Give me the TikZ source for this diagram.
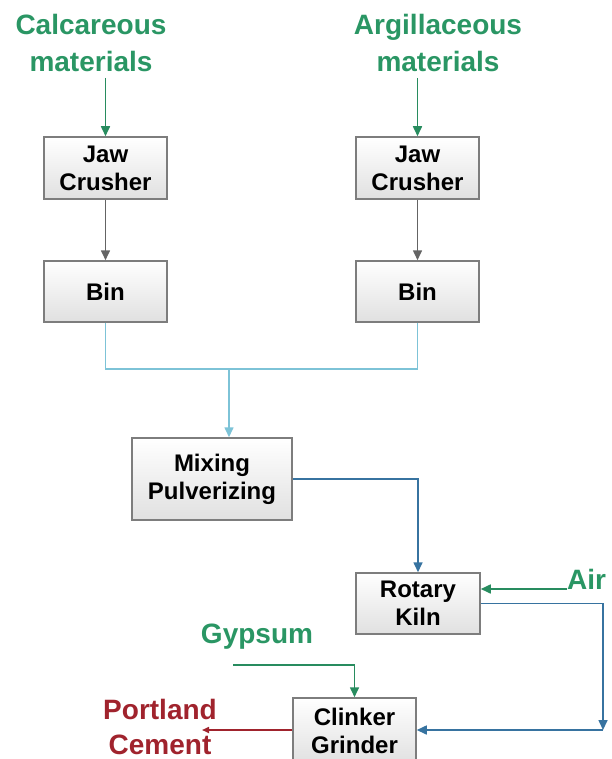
\documentclass[tikz,border=0pt]{standalone}
\usepackage{fontspec}
\setmainfont{Liberation Sans}
\usetikzlibrary{arrows.meta,calc}
\definecolor{lblgreen}{RGB}{42,150,100}
\definecolor{arrgreen}{RGB}{40,140,95}
\definecolor{lblue}{RGB}{125,195,215}
\definecolor{dblue}{RGB}{55,115,160}
\definecolor{dgray}{RGB}{100,100,100}
\definecolor{lred}{RGB}{160,35,45}
\definecolor{boxline}{RGB}{125,125,125}
\tikzset{
  box/.style={draw=boxline, line width=1.5pt, top color=white, bottom color=black!12,
    minimum width=123pt, align=center, inner sep=0pt,
    font=\bfseries\fontsize{24}{28}\selectfont, text=black},
  lbl/.style={align=center, inner sep=2pt, font=\bfseries\fontsize{28}{37}\selectfont},
  tipa/.style={-{Triangle[length=10pt,width=9pt]}},
  conn/.style={line width=1.6pt}
}
\begin{document}
\begin{tikzpicture}[x=1pt,y=-1pt]
\useasboundingbox (0,0) rectangle (611,759);
\clip (0,0) rectangle (611,759);
% labels
\node[lbl, text=lblgreen] (calc) at (91,43) {Calcareous\\materials};
\node[lbl, text=lblgreen] (arg) at (438,43) {Argillaceous\\materials};
% boxes
\node[box, minimum height=62pt] (jaw1) at (105.5,168) {Jaw\\Crusher};
\node[box, minimum height=62pt] (jaw2) at (417.5,168) {Jaw\\Crusher};
\node[box, minimum height=61pt] (bin1) at (105.5,291.5) {Bin};
\node[box, minimum height=61pt] (bin2) at (417.5,291.5) {Bin};
\node[box, minimum width=160pt, minimum height=82pt] (mix) at (212,479) {Mixing\\Pulverizing};
\node[box, minimum width=124pt, minimum height=61pt] (kiln) at (418,603.5) {Rotary\\Kiln};
\node[box, minimum height=66pt] (clinker) at (354.5,731) {Clinker\\Grinder};
\node[lbl, text=lblgreen, anchor=base west, inner sep=0pt] (air) at (567,589) {Air};
\node[lbl, text=lblgreen] (gyp) at (257,637) {Gypsum};
\node[lbl, text=lred, font=\bfseries\fontsize{28}{35}\selectfont] (port) at (160,727) {Portland\\Cement};
% coordinates
\coordinate (j) at (229,369);
\coordinate (k) at (603,730);
\coordinate (g) at (233,665);
\coordinate (pc) at (202,730);
% connectors
\draw[conn, tipa, arrgreen] (calc.south -| jaw1.north) ++(0,4) -- (jaw1.north);
\draw[conn, tipa, arrgreen] (arg.south -| jaw2.north) ++(0,4) -- (jaw2.north);
\draw[conn, tipa, dgray] (jaw1.south) -- (bin1.north);
\draw[conn, tipa, dgray] (jaw2.south) -- (bin2.north);
\draw[conn, lblue] (bin1.south) |- (j);
\draw[conn, lblue] (bin2.south) |- (j);
\draw[conn, tipa, lblue] (j) -- (j |- mix.north);
\draw[conn, tipa, dblue] (mix.east) -| (kiln.north);
\draw[conn, tipa, arrgreen] (air.base west) -- (air.base west -| kiln.east);
\draw[conn, tipa, dblue] (kiln.east) -| (k);
\draw[conn, tipa, dblue] (k) -- (k -| clinker.east);
\draw[conn, tipa, arrgreen] (g) -| (clinker.north);
\draw[conn, lred, -{Triangle[length=7pt,width=6pt]}] (clinker.west |- pc) -- (pc);
\end{tikzpicture}
\end{document}
